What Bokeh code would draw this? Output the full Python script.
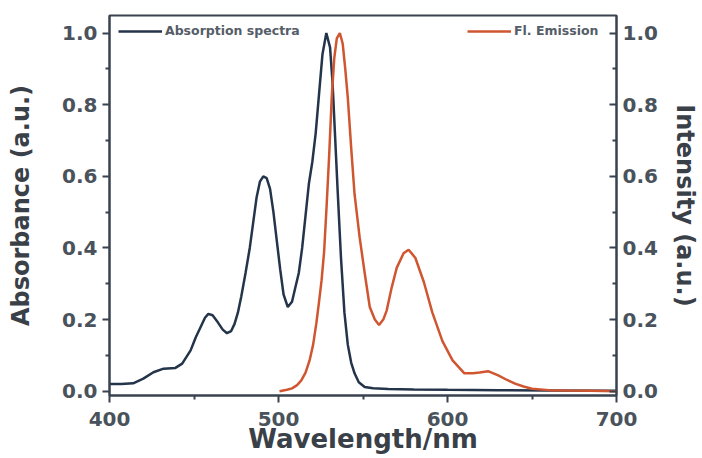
from bokeh.plotting import figure
from bokeh.models import (Range1d, LinearAxis, FixedTicker, PrintfTickFormatter,
                          Legend, LegendItem)
from bokeh.embed import file_html
from bokeh.resources import INLINE

# ---- data ----
abs_wl = [400, 407, 414, 420, 426, 432, 439, 443, 448, 451, 454, 456.5, 458.5, 461, 464, 467,
          469.5, 472, 474, 476, 478, 480.5, 483, 485, 487, 489, 491, 493, 495, 497, 499, 501,
          503, 505.5, 508, 510, 512, 514, 516, 518, 520, 522, 524, 526, 528.3, 530.5, 532,
          533.5, 535, 537, 539, 541, 543, 545, 547.5, 551, 556, 565, 580, 600, 630, 660, 700]
abs_val = [0.02, 0.02, 0.022, 0.035, 0.053, 0.063, 0.065, 0.077, 0.114, 0.15, 0.18, 0.205,
           0.216, 0.212, 0.193, 0.172, 0.162, 0.168, 0.188, 0.22, 0.265, 0.33, 0.40, 0.47,
           0.54, 0.585, 0.60, 0.595, 0.565, 0.50, 0.42, 0.34, 0.27, 0.235, 0.25, 0.29, 0.33,
           0.40, 0.49, 0.58, 0.64, 0.72, 0.83, 0.94, 1.0, 0.96, 0.86, 0.71, 0.56, 0.37, 0.22,
           0.13, 0.08, 0.05, 0.025, 0.012, 0.008, 0.006, 0.005, 0.004, 0.003, 0.002, 0.001]

em_wl = [500.6, 505, 508, 511, 513.5, 516, 518.4, 520.5, 522.4, 524, 525.5, 527, 528.5, 530,
         531.5, 533, 534.5, 536.3, 538, 539.5, 541, 543, 545, 548, 551, 554, 557, 559.5, 562,
         564, 567, 570, 574, 577, 581, 586, 591, 597, 603, 610, 615, 619, 624, 630, 635, 640,
         645, 650, 660, 670, 685, 700]
em_val = [0.0, 0.004, 0.008, 0.017, 0.03, 0.052, 0.086, 0.13, 0.19, 0.25, 0.31, 0.39, 0.52,
          0.66, 0.82, 0.93, 0.985, 1.0, 0.97, 0.90, 0.82, 0.68, 0.55, 0.43, 0.33, 0.235, 0.20,
          0.185, 0.2, 0.225, 0.29, 0.345, 0.385, 0.395, 0.372, 0.305, 0.22, 0.14, 0.086, 0.05,
          0.05, 0.052, 0.056, 0.044, 0.032, 0.021, 0.013, 0.007, 0.003, 0.002, 0.001, 0.0]

x_ticks = [400, 500, 600, 700]
x_minor = [450, 550, 650]
y_ticks = [0.0, 0.2, 0.4, 0.6, 0.8, 1.0]
y_minor = [0.1, 0.3, 0.5, 0.7, 0.9]

series_names = ["Absorption spectra", "Fl. Emission"]
x_title = "Wavelength/nm"
y_title = "Absorbance (a.u.)"
y2_title = "Intensity (a.u.)"

# ---- styling ----
FONT = "DejaVu Sans"
AX = "#39424e"
TXT = "#4a525c"
ABS_C = "#24344a"
EM_C = "#cf5630"

p = figure(width=702, height=458, output_backend="svg", toolbar_location=None,
           x_range=Range1d(400, 700), y_range=Range1d(-0.012, 1.049),
           min_border_left=109, min_border_right=86, min_border_top=15,
           min_border_bottom=63, background_fill_color="white",
           border_fill_color="white")
p.extra_y_ranges = {"int": Range1d(-0.012, 1.049)}

p.xgrid.visible = False
p.ygrid.visible = False
p.outline_line_color = AX
p.outline_line_width = 2

r_abs = p.line(abs_wl, abs_val, line_color=ABS_C, line_width=2.5)
r_em = p.line(em_wl, em_val, line_color=EM_C, line_width=2.5, y_range_name="int")

y2 = LinearAxis(y_range_name="int")
p.add_layout(y2, "right")

def style(ax, ticks, minor, label, label_size, tick_size="20px"):
    ax.ticker = FixedTicker(ticks=ticks, minor_ticks=minor)
    ax.axis_line_color = AX
    ax.axis_line_width = 2
    ax.major_tick_line_color = AX
    ax.major_tick_line_width = 2
    ax.minor_tick_line_color = AX
    ax.minor_tick_line_width = 2
    ax.major_label_text_font = FONT
    ax.major_label_text_font_style = "bold"
    ax.major_label_text_font_size = tick_size
    ax.major_label_text_color = TXT
    ax.axis_label = label
    ax.axis_label_text_font = FONT
    ax.axis_label_text_font_style = "bold"
    ax.axis_label_text_font_size = label_size
    ax.axis_label_text_color = "#3a4048"

xa = p.xaxis[0]
style(xa, x_ticks, x_minor, x_title, "26px", "20px")
xa.major_tick_out = 7
xa.major_tick_in = 0
xa.minor_tick_out = 4
xa.minor_tick_in = 0
xa.major_label_standoff = 9
xa.axis_label_standoff = -5

ya = p.yaxis[0]
style(ya, y_ticks, y_minor, y_title, "24px")
ya.formatter = PrintfTickFormatter(format="%.1f")
ya.major_tick_out = 7
ya.major_tick_in = 0
ya.minor_tick_out = 4
ya.minor_tick_in = 0
ya.major_label_standoff = 5
ya.axis_label_standoff = 24

style(y2, y_ticks, y_minor, y2_title, "24px")
y2.formatter = PrintfTickFormatter(format="%.1f")
y2.major_tick_out = 0
y2.major_tick_in = 7
y2.minor_tick_out = 0
y2.minor_tick_in = 4
y2.major_label_standoff = 6
y2.axis_label_standoff = 10

def make_legend(name, renderer, loc):
    lg = Legend(items=[LegendItem(label=name, renderers=[renderer])], location=loc,
                padding=0, margin=0, spacing=0, glyph_width=44, glyph_height=14,
                label_standoff=3, label_height=14,
                label_text_font=FONT, label_text_font_style="bold",
                label_text_font_size="12.5px", label_text_color="#555d68",
                border_line_alpha=0, background_fill_alpha=0)
    p.add_layout(lg)
    return lg

make_legend(series_names[0], r_abs, (9, 357))
make_legend(series_names[1], r_em, (358, 357))

open("out.html", "w").write(file_html(p, INLINE))
